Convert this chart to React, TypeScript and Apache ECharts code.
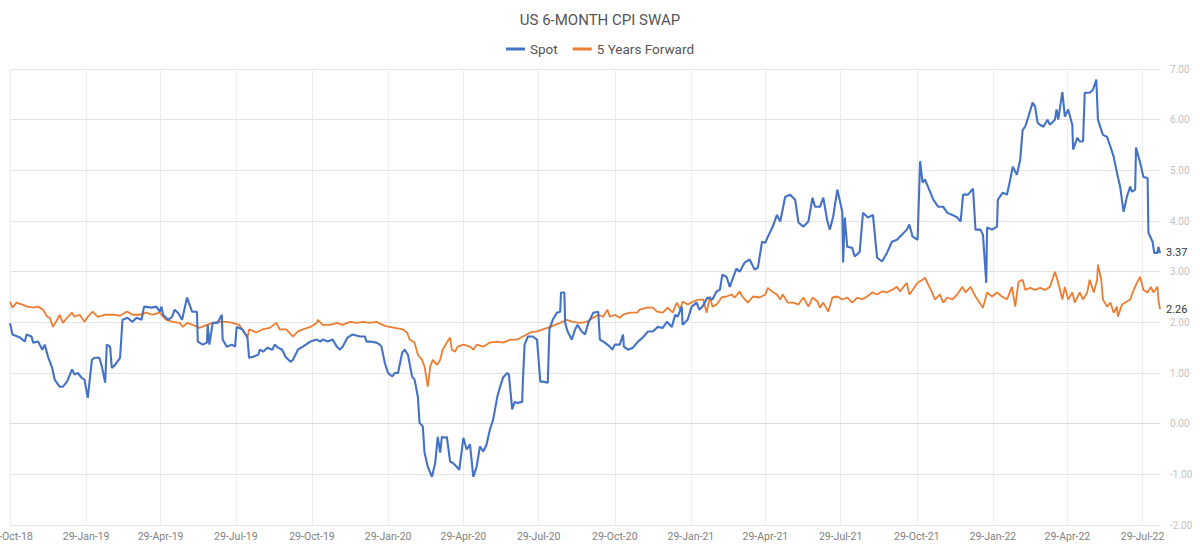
import React, { useEffect, useRef } from "react";
import * as echarts from "echarts";

// US 6-month CPI swap: spot rate and 5-years-forward rate (%)
const START_DATE = "2018-10-29";
const END_DATE = "2022-08-19";

const MONTHS = ["Jan", "Feb", "Mar", "Apr", "May", "Jun", "Jul", "Aug", "Sep", "Oct", "Nov", "Dec"];

const Y_MIN = -2;
const Y_MAX = 7;
const Y_STEP = 1;

const spot: [string, number][] = [
  ["2018-10-29", 1.98], ["2018-11-01", 1.76], ["2018-11-10", 1.70], ["2018-11-16", 1.62],
  ["2018-11-18", 1.76], ["2018-11-24", 1.72], ["2018-11-26", 1.60], ["2018-12-02", 1.62],
  ["2018-12-07", 1.46], ["2018-12-10", 1.56], ["2018-12-14", 1.32], ["2018-12-19", 1.10],
  ["2018-12-22", 0.87], ["2018-12-28", 0.73], ["2019-01-01", 0.73], ["2019-01-06", 0.83],
  ["2019-01-12", 1.07], ["2019-01-15", 0.97], ["2019-01-19", 1.00], ["2019-01-24", 0.90],
  ["2019-01-27", 0.87], ["2019-01-31", 0.51], ["2019-02-05", 1.26], ["2019-02-08", 1.30],
  ["2019-02-14", 1.30], ["2019-02-17", 1.13], ["2019-02-21", 0.81], ["2019-02-23", 1.56],
  ["2019-02-27", 1.52], ["2019-03-01", 1.10], ["2019-03-05", 1.16], ["2019-03-11", 1.30],
  ["2019-03-14", 2.05], ["2019-03-20", 2.09], ["2019-03-26", 2.01], ["2019-03-31", 2.09],
  ["2019-04-06", 2.05], ["2019-04-09", 2.31], ["2019-04-18", 2.29], ["2019-04-24", 2.31],
  ["2019-04-28", 2.21], ["2019-04-30", 2.31], ["2019-05-02", 2.15], ["2019-05-08", 2.05],
  ["2019-05-13", 2.11], ["2019-05-16", 2.25], ["2019-05-20", 2.19], ["2019-05-25", 2.05],
  ["2019-05-31", 2.49], ["2019-06-03", 2.35], ["2019-06-06", 2.21], ["2019-06-12", 2.21],
  ["2019-06-13", 1.62], ["2019-06-19", 1.56], ["2019-06-24", 1.60], ["2019-06-25", 1.95],
  ["2019-06-27", 1.56], ["2019-07-01", 1.99], ["2019-07-07", 1.99], ["2019-07-12", 2.15],
  ["2019-07-13", 1.66], ["2019-07-18", 1.52], ["2019-07-24", 1.56], ["2019-07-28", 1.52],
  ["2019-07-30", 1.91], ["2019-08-06", 1.86], ["2019-08-12", 1.70], ["2019-08-14", 1.30],
  ["2019-08-19", 1.32], ["2019-08-25", 1.36], ["2019-08-27", 1.46], ["2019-08-31", 1.42],
  ["2019-09-05", 1.50], ["2019-09-11", 1.46], ["2019-09-14", 1.56], ["2019-09-18", 1.50],
  ["2019-09-23", 1.46], ["2019-09-27", 1.32], ["2019-10-03", 1.22], ["2019-10-06", 1.26],
  ["2019-10-12", 1.46], ["2019-10-18", 1.52], ["2019-10-27", 1.62], ["2019-11-04", 1.66],
  ["2019-11-08", 1.62], ["2019-11-11", 1.66], ["2019-11-17", 1.62], ["2019-11-23", 1.66],
  ["2019-11-28", 1.52], ["2019-12-02", 1.46], ["2019-12-05", 1.52], ["2019-12-11", 1.70],
  ["2019-12-17", 1.76], ["2019-12-26", 1.72], ["2020-01-01", 1.72], ["2020-01-03", 1.62],
  ["2020-01-07", 1.62], ["2020-01-15", 1.60], ["2020-01-19", 1.56], ["2020-01-21", 1.52],
  ["2020-01-25", 1.20], ["2020-01-29", 1.00], ["2020-02-03", 0.93], ["2020-02-06", 1.00],
  ["2020-02-10", 1.00], ["2020-02-15", 1.40], ["2020-02-18", 1.46], ["2020-02-22", 1.36],
  ["2020-02-27", 0.93], ["2020-03-01", 0.87], ["2020-03-05", 0.53], ["2020-03-07", 0.02],
  ["2020-03-11", -0.06], ["2020-03-13", -0.57], ["2020-03-17", -0.85], ["2020-03-22", -1.05],
  ["2020-03-26", -0.77], ["2020-03-29", -0.26], ["2020-04-01", -0.57], ["2020-04-03", -0.26],
  ["2020-04-07", -0.28], ["2020-04-09", -0.26], ["2020-04-13", -0.75], ["2020-04-16", -0.77],
  ["2020-04-21", -0.85], ["2020-04-24", -0.91], ["2020-04-29", -0.28], ["2020-05-03", -0.51],
  ["2020-05-07", -0.41], ["2020-05-11", -1.05], ["2020-05-15", -0.85], ["2020-05-19", -0.45],
  ["2020-05-23", -0.55], ["2020-05-27", -0.41], ["2020-05-31", -0.12], ["2020-06-04", 0.08],
  ["2020-06-09", 0.53], ["2020-06-12", 0.71], ["2020-06-16", 0.91], ["2020-06-21", 1.00],
  ["2020-06-23", 0.97], ["2020-06-27", 0.28], ["2020-06-30", 0.43], ["2020-07-04", 0.41],
  ["2020-07-09", 0.43], ["2020-07-10", 0.87], ["2020-07-12", 1.56], ["2020-07-16", 1.72],
  ["2020-07-22", 1.72], ["2020-07-27", 1.66], ["2020-07-31", 0.83], ["2020-08-03", 0.83],
  ["2020-08-09", 0.81], ["2020-08-11", 1.86], ["2020-08-15", 2.05], ["2020-08-20", 2.19],
  ["2020-08-24", 2.21], ["2020-08-25", 2.59], ["2020-08-29", 2.59], ["2020-08-30", 1.99],
  ["2020-09-02", 1.82], ["2020-09-07", 1.66], ["2020-09-11", 1.86], ["2020-09-14", 1.95],
  ["2020-09-19", 1.82], ["2020-09-23", 1.76], ["2020-09-27", 1.99], ["2020-10-03", 2.19],
  ["2020-10-09", 2.21], ["2020-10-11", 1.66], ["2020-10-17", 1.60], ["2020-10-23", 1.52],
  ["2020-10-26", 1.46], ["2020-10-29", 1.56], ["2020-11-04", 1.56], ["2020-11-08", 1.76],
  ["2020-11-09", 1.52], ["2020-11-14", 1.46], ["2020-11-20", 1.50], ["2020-11-26", 1.62],
  ["2020-12-02", 1.70], ["2020-12-08", 1.82], ["2020-12-14", 1.82], ["2020-12-20", 1.91],
  ["2020-12-26", 1.89], ["2020-12-31", 2.01], ["2021-01-06", 1.91], ["2021-01-10", 2.15],
  ["2021-01-13", 2.11], ["2021-01-18", 2.31], ["2021-01-19", 1.95], ["2021-01-25", 2.05],
  ["2021-01-30", 2.31], ["2021-02-05", 2.39], ["2021-02-08", 2.25], ["2021-02-12", 2.31],
  ["2021-02-18", 2.49], ["2021-02-24", 2.45], ["2021-03-01", 2.61], ["2021-03-05", 2.64],
  ["2021-03-08", 2.94], ["2021-03-13", 2.90], ["2021-03-17", 2.70], ["2021-03-20", 2.84],
  ["2021-03-25", 3.06], ["2021-03-29", 3.00], ["2021-04-04", 3.18], ["2021-04-10", 3.24],
  ["2021-04-16", 3.04], ["2021-04-20", 3.08], ["2021-04-25", 3.59], ["2021-04-29", 3.57],
  ["2021-05-02", 3.69], ["2021-05-08", 3.89], ["2021-05-13", 4.12], ["2021-05-17", 3.99],
  ["2021-05-23", 4.48], ["2021-05-29", 4.52], ["2021-06-04", 4.42], ["2021-06-08", 3.97],
  ["2021-06-14", 3.89], ["2021-06-20", 3.99], ["2021-06-25", 4.46], ["2021-06-28", 4.28],
  ["2021-07-04", 4.28], ["2021-07-08", 4.46], ["2021-07-13", 3.99], ["2021-07-16", 3.83],
  ["2021-07-20", 4.09], ["2021-07-25", 4.62], ["2021-07-31", 4.18], ["2021-08-01", 3.18],
  ["2021-08-03", 4.07], ["2021-08-06", 3.49], ["2021-08-12", 3.47], ["2021-08-15", 3.30],
  ["2021-08-21", 3.39], ["2021-08-25", 4.16], ["2021-08-31", 4.07], ["2021-09-06", 4.12],
  ["2021-09-11", 3.28], ["2021-09-17", 3.20], ["2021-09-23", 3.37], ["2021-09-29", 3.59],
  ["2021-10-05", 3.63], ["2021-10-11", 3.73], ["2021-10-17", 3.83], ["2021-10-20", 3.93],
  ["2021-10-24", 3.69], ["2021-10-30", 3.63], ["2021-11-02", 5.18], ["2021-11-05", 4.76],
  ["2021-11-08", 4.82], ["2021-11-11", 4.70], ["2021-11-18", 4.42], ["2021-11-24", 4.28],
  ["2021-11-30", 4.28], ["2021-12-05", 4.16], ["2021-12-11", 4.12], ["2021-12-17", 4.07],
  ["2021-12-21", 3.99], ["2021-12-24", 4.52], ["2021-12-30", 4.52], ["2022-01-05", 4.64],
  ["2022-01-08", 3.83], ["2022-01-14", 3.83], ["2022-01-17", 3.73], ["2022-01-21", 2.78],
  ["2022-01-22", 3.87], ["2022-01-28", 3.83], ["2022-02-03", 3.89], ["2022-02-04", 4.42],
  ["2022-02-10", 4.56], ["2022-02-15", 4.52], ["2022-02-19", 4.82], ["2022-02-22", 5.07],
  ["2022-02-27", 4.91], ["2022-03-03", 5.21], ["2022-03-06", 5.80], ["2022-03-09", 5.86],
  ["2022-03-13", 6.06], ["2022-03-18", 6.34], ["2022-03-21", 6.26], ["2022-03-24", 5.94],
  ["2022-03-27", 5.90], ["2022-03-31", 5.86], ["2022-04-05", 6.00], ["2022-04-08", 5.90],
  ["2022-04-14", 6.00], ["2022-04-16", 6.20], ["2022-04-18", 6.00], ["2022-04-23", 6.55],
  ["2022-04-26", 6.06], ["2022-04-30", 6.20], ["2022-05-05", 5.90], ["2022-05-06", 5.41],
  ["2022-05-11", 5.64], ["2022-05-14", 5.57], ["2022-05-18", 5.57], ["2022-05-20", 6.53],
  ["2022-05-26", 6.53], ["2022-05-30", 6.59], ["2022-06-03", 6.79], ["2022-06-05", 6.00],
  ["2022-06-11", 5.70], ["2022-06-16", 5.66], ["2022-06-20", 5.47], ["2022-06-24", 5.27],
  ["2022-06-28", 4.95], ["2022-07-02", 4.66], ["2022-07-06", 4.18], ["2022-07-10", 4.48],
  ["2022-07-14", 4.68], ["2022-07-16", 4.58], ["2022-07-20", 4.62], ["2022-07-21", 5.45],
  ["2022-07-26", 5.15], ["2022-07-30", 4.87], ["2022-08-04", 4.85], ["2022-08-05", 3.77],
  ["2022-08-10", 3.59], ["2022-08-12", 3.37], ["2022-08-16", 3.37], ["2022-08-17", 3.49],
  ["2022-08-19", 3.37],
];

const forward5y: [string, number][] = [
  ["2018-10-29", 2.41], ["2018-11-01", 2.29], ["2018-11-06", 2.39], ["2018-11-13", 2.35],
  ["2018-11-19", 2.31], ["2018-11-26", 2.29], ["2018-12-02", 2.31], ["2018-12-08", 2.25],
  ["2018-12-13", 2.11], ["2018-12-16", 2.09], ["2018-12-20", 1.91], ["2018-12-25", 2.05],
  ["2018-12-28", 2.15], ["2019-01-01", 1.99], ["2019-01-06", 2.09], ["2019-01-12", 2.19],
  ["2019-01-15", 2.11], ["2019-01-21", 2.15], ["2019-01-27", 2.01], ["2019-01-31", 2.11],
  ["2019-02-06", 2.21], ["2019-02-12", 2.11], ["2019-02-21", 2.15], ["2019-03-03", 2.15],
  ["2019-03-11", 2.13], ["2019-03-17", 2.19], ["2019-03-20", 2.21], ["2019-03-26", 2.15],
  ["2019-04-04", 2.15], ["2019-04-12", 2.19], ["2019-04-19", 2.15], ["2019-04-28", 2.19],
  ["2019-05-02", 2.11], ["2019-05-06", 2.05], ["2019-05-14", 2.01], ["2019-05-22", 1.99],
  ["2019-05-26", 1.91], ["2019-05-31", 1.99], ["2019-06-07", 1.95], ["2019-06-15", 1.89],
  ["2019-06-24", 1.95], ["2019-07-01", 1.99], ["2019-07-09", 2.01], ["2019-07-18", 2.01],
  ["2019-07-25", 1.99], ["2019-08-02", 1.95], ["2019-08-06", 1.86], ["2019-08-12", 1.70],
  ["2019-08-14", 1.86], ["2019-08-23", 1.80], ["2019-08-30", 1.86], ["2019-09-08", 1.89],
  ["2019-09-16", 1.99], ["2019-09-20", 1.86], ["2019-09-28", 1.86], ["2019-10-06", 1.72],
  ["2019-10-12", 1.82], ["2019-10-18", 1.86], ["2019-10-27", 1.91], ["2019-11-04", 1.99],
  ["2019-11-05", 2.05], ["2019-11-11", 1.95], ["2019-11-20", 1.95], ["2019-11-28", 1.99],
  ["2019-12-05", 1.95], ["2019-12-14", 2.01], ["2019-12-22", 1.99], ["2019-12-30", 2.01],
  ["2020-01-07", 1.99], ["2020-01-15", 2.01], ["2020-01-25", 1.93], ["2020-02-06", 1.89],
  ["2020-02-16", 1.86], ["2020-02-21", 1.80], ["2020-02-24", 1.66], ["2020-03-01", 1.60],
  ["2020-03-05", 1.36], ["2020-03-10", 1.26], ["2020-03-13", 1.13], ["2020-03-17", 0.73],
  ["2020-03-20", 1.13], ["2020-03-23", 1.26], ["2020-03-28", 1.16], ["2020-04-01", 1.26],
  ["2020-04-04", 1.46], ["2020-04-09", 1.60], ["2020-04-13", 1.70], ["2020-04-15", 1.46],
  ["2020-04-19", 1.42], ["2020-04-22", 1.52], ["2020-04-29", 1.56], ["2020-05-07", 1.52],
  ["2020-05-11", 1.46], ["2020-05-15", 1.56], ["2020-05-23", 1.52], ["2020-05-31", 1.60],
  ["2020-06-09", 1.62], ["2020-06-16", 1.60], ["2020-06-25", 1.66], ["2020-07-03", 1.66],
  ["2020-07-10", 1.72], ["2020-07-19", 1.80], ["2020-07-27", 1.82], ["2020-08-03", 1.86],
  ["2020-08-12", 1.91], ["2020-08-24", 1.99], ["2020-09-01", 2.05], ["2020-09-08", 2.01],
  ["2020-09-17", 1.99], ["2020-09-25", 2.01], ["2020-10-03", 2.09], ["2020-10-09", 2.15],
  ["2020-10-15", 2.11], ["2020-10-20", 2.25], ["2020-10-23", 2.11], ["2020-10-29", 2.15],
  ["2020-11-04", 2.09], ["2020-11-08", 2.15], ["2020-11-16", 2.19], ["2020-11-25", 2.19],
  ["2020-11-28", 2.25], ["2020-12-07", 2.29], ["2020-12-14", 2.29], ["2020-12-19", 2.21],
  ["2020-12-26", 2.19], ["2021-01-01", 2.29], ["2021-01-07", 2.19], ["2021-01-12", 2.39],
  ["2021-01-16", 2.25], ["2021-01-19", 2.41], ["2021-01-25", 2.35], ["2021-02-01", 2.41],
  ["2021-02-07", 2.45], ["2021-02-13", 2.45], ["2021-02-17", 2.19], ["2021-02-21", 2.51],
  ["2021-02-24", 2.31], ["2021-03-01", 2.35], ["2021-03-07", 2.49], ["2021-03-13", 2.51],
  ["2021-03-19", 2.55], ["2021-03-23", 2.49], ["2021-03-29", 2.61], ["2021-04-01", 2.51],
  ["2021-04-08", 2.39], ["2021-04-14", 2.51], ["2021-04-22", 2.49], ["2021-04-29", 2.55],
  ["2021-05-02", 2.68], ["2021-05-07", 2.61], ["2021-05-13", 2.55], ["2021-05-17", 2.45],
  ["2021-05-20", 2.55], ["2021-05-26", 2.39], ["2021-06-02", 2.39], ["2021-06-08", 2.35],
  ["2021-06-14", 2.49], ["2021-06-20", 2.31], ["2021-06-25", 2.49], ["2021-07-01", 2.41],
  ["2021-07-04", 2.29], ["2021-07-08", 2.39], ["2021-07-14", 2.21], ["2021-07-19", 2.49],
  ["2021-07-25", 2.51], ["2021-07-31", 2.45], ["2021-08-06", 2.49], ["2021-08-12", 2.39],
  ["2021-08-18", 2.49], ["2021-08-24", 2.45], ["2021-08-30", 2.51], ["2021-09-05", 2.59],
  ["2021-09-11", 2.55], ["2021-09-17", 2.61], ["2021-09-23", 2.59], ["2021-09-29", 2.64],
  ["2021-10-05", 2.70], ["2021-10-09", 2.61], ["2021-10-13", 2.70], ["2021-10-17", 2.78],
  ["2021-10-20", 2.55], ["2021-10-24", 2.64], ["2021-10-30", 2.78], ["2021-11-05", 2.84],
  ["2021-11-08", 2.88], ["2021-11-12", 2.74], ["2021-11-16", 2.61], ["2021-11-20", 2.45],
  ["2021-11-26", 2.55], ["2021-11-30", 2.39], ["2021-12-05", 2.49], ["2021-12-11", 2.45],
  ["2021-12-17", 2.55], ["2021-12-23", 2.70], ["2021-12-27", 2.59], ["2022-01-02", 2.70],
  ["2022-01-08", 2.51], ["2022-01-12", 2.41], ["2022-01-17", 2.29], ["2022-01-22", 2.59],
  ["2022-01-28", 2.51], ["2022-02-03", 2.59], ["2022-02-09", 2.51], ["2022-02-15", 2.45],
  ["2022-02-21", 2.70], ["2022-02-25", 2.31], ["2022-03-01", 2.80], ["2022-03-06", 2.84],
  ["2022-03-09", 2.64], ["2022-03-15", 2.68], ["2022-03-21", 2.64], ["2022-03-27", 2.68],
  ["2022-04-02", 2.64], ["2022-04-08", 2.70], ["2022-04-14", 3.00], ["2022-04-18", 2.78],
  ["2022-04-23", 2.45], ["2022-04-26", 2.70], ["2022-04-30", 2.45], ["2022-05-05", 2.59],
  ["2022-05-08", 2.39], ["2022-05-14", 2.59], ["2022-05-18", 2.45], ["2022-05-23", 2.59],
  ["2022-05-26", 2.84], ["2022-05-31", 2.59], ["2022-06-04", 2.84], ["2022-06-05", 3.14],
  ["2022-06-09", 2.84], ["2022-06-11", 2.45], ["2022-06-16", 2.31], ["2022-06-20", 2.39],
  ["2022-06-24", 2.19], ["2022-06-28", 2.31], ["2022-06-29", 2.11], ["2022-07-04", 2.35],
  ["2022-07-10", 2.41], ["2022-07-14", 2.45], ["2022-07-17", 2.59], ["2022-07-22", 2.78],
  ["2022-07-26", 2.90], ["2022-07-30", 2.64], ["2022-08-04", 2.59], ["2022-08-08", 2.70],
  ["2022-08-11", 2.59], ["2022-08-16", 2.70], ["2022-08-17", 2.45], ["2022-08-19", 2.26],
];

const FONT = "Roboto, 'DejaVu Sans', sans-serif";

function buildDays(start: string, end: string): string[] {
  const out: string[] = [];
  const t0 = Date.parse(start + "T00:00:00Z");
  const t1 = Date.parse(end + "T00:00:00Z");
  for (let t = t0; t <= t1; t += 86400000) {
    out.push(new Date(t).toISOString().slice(0, 10));
  }
  return out;
}

function isQuarterTick(day: string): boolean {
  const m = day.slice(5, 7);
  return day.slice(8, 10) === "29" && (m === "01" || m === "04" || m === "07" || m === "10");
}

function formatDay(day: string): string {
  const y = day.slice(2, 4);
  const m = MONTHS[parseInt(day.slice(5, 7), 10) - 1];
  const d = parseInt(day.slice(8, 10), 10);
  return `${d}-${m}-${y}`;
}

export default function App() {
  const ref = useRef<HTMLDivElement>(null);

  useEffect(() => {
    if (!ref.current) return;
    const chart = echarts.init(ref.current, undefined, { renderer: "svg" });
    const days = buildDays(START_DATE, END_DATE);
    const tickFn = (_i: number, v: string) => isQuarterTick(v);

    const endLabel = {
      show: true,
      formatter: (p: any) => Number(p.value[1]).toFixed(2),
      color: "#333333",
      fontSize: 11,
      fontFamily: FONT,
      distance: 6,
    };

    chart.setOption({
      animation: false,
      backgroundColor: "#ffffff",
      textStyle: { fontFamily: FONT },
      title: {
        text: "US 6-MONTH CPI SWAP",
        left: "center",
        top: 7,
        textStyle: { fontFamily: FONT, fontSize: 15, fontWeight: "normal", color: "#555555" },
      },
      legend: {
        top: 37,
        left: "center",
        itemGap: 15,
        itemWidth: 19,
        itemHeight: 3,
        icon: "rect",
        textStyle: { fontFamily: FONT, fontSize: 13.5, color: "#555555" },
        data: ["Spot", "5 Years Forward"],
      },
      grid: {
        left: 10,
        right: 40,
        top: 69,
        bottom: 26,
        containLabel: false,
        outerBoundsMode: "none",
      },
      xAxis: {
        type: "category",
        data: days,
        boundaryGap: false,
        axisLine: { show: true, lineStyle: { color: "#d9d9d9", width: 1 } },
        axisTick: { show: false },
        splitLine: { show: true, interval: tickFn, lineStyle: { color: "#ececec", width: 1 } },
        axisLabel: {
          interval: tickFn,
          formatter: (v: string) => formatDay(v),
          color: "#7f7f7f",
          fontSize: 10.5,
          fontFamily: FONT,
          margin: 6,
          showMinLabel: true,
          hideOverlap: false,
          alignMinLabel: "center",
          alignMaxLabel: "center",
        },
      },
      yAxis: {
        type: "value",
        position: "right",
        min: Y_MIN,
        max: Y_MAX,
        interval: Y_STEP,
        axisLine: { show: false },
        axisTick: { show: false },
        splitLine: { show: true, lineStyle: { color: "#e3e3e3", width: 1 } },
        axisLabel: {
          formatter: (v: number) => v.toFixed(2),
          color: "#bfbfbf",
          fontSize: 10,
          fontFamily: FONT,
          margin: 10,
        },
      },
      series: [
        {
          name: "Spot",
          type: "line",
          data: spot,
          showSymbol: false,
          symbol: "none",
          lineStyle: { color: "#4472c4", width: 2.1 },
          itemStyle: { color: "#4472c4" },
          endLabel,
          z: 3,
        },
        {
          name: "5 Years Forward",
          type: "line",
          data: forward5y,
          showSymbol: false,
          symbol: "none",
          lineStyle: { color: "#ed7d31", width: 1.8 },
          itemStyle: { color: "#ed7d31" },
          endLabel,
          z: 2,
        },
      ],
    });

    return () => chart.dispose();
  }, []);

  return (
    <div
      ref={ref}
      style={{ position: "absolute", left: 0, top: 0, width: 1200, height: 551, background: "#fff" }}
    />
  );
}
